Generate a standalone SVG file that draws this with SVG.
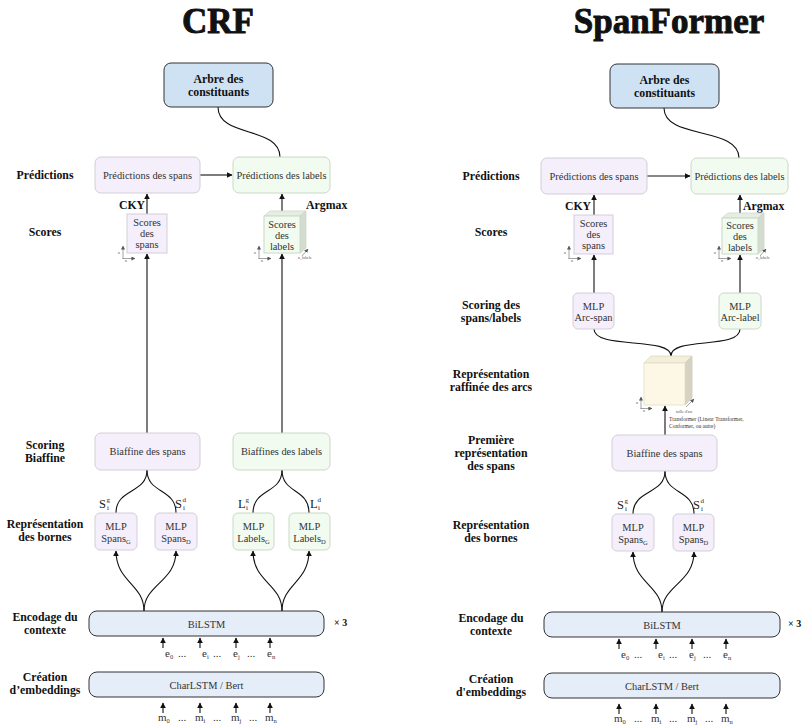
<svg xmlns="http://www.w3.org/2000/svg" width="804" height="726" viewBox="0 0 804 726">
<defs>
<marker id="ah" viewBox="0 0 10 10" refX="9" refY="5" markerWidth="6" markerHeight="6" markerUnits="userSpaceOnUse" orient="auto"><path d="M0,0 L10,5 L0,10 z" fill="#111"/></marker>
<marker id="sh" viewBox="0 0 10 10" refX="9" refY="5" markerWidth="4" markerHeight="4" markerUnits="userSpaceOnUse" orient="auto"><path d="M0,0 L10,5 L0,10 z" fill="#555"/></marker>
<style>
.title{font-family:"Liberation Serif",serif;font-weight:bold;font-size:35px;text-anchor:middle;fill:#111;stroke:#111;stroke-width:0.9}
.lb{font-family:"Liberation Serif",serif;font-weight:bold;font-size:11.8px;text-anchor:middle;fill:#111}
.at{font-family:"Liberation Serif",serif;font-weight:bold;font-size:11.8px;text-anchor:middle;fill:#111}
.bt{font-family:"Liberation Serif",serif;font-size:10.4px;text-anchor:middle;fill:#333}
.st{font-family:"Liberation Serif",serif;font-size:10.4px;text-anchor:middle;fill:#333}
.sm{font-family:"Liberation Serif",serif;font-size:6.5px;fill:#333}
.tiny{font-family:"Liberation Serif",serif;font-size:4px;fill:#555}
.tx{font-family:"Liberation Serif",serif;font-size:5.5px;fill:#333}
.sym{font-family:"Liberation Serif",serif;font-size:12.5px;fill:#222}
.sup{font-family:"Liberation Serif",serif;font-size:7px;fill:#222}
.io{font-family:"Liberation Serif",serif;font-size:11px;fill:#333}
.pv{fill:#f4effb;stroke:#d3cdd9;stroke-width:1}
.gr{fill:#f1fbef;stroke:#cbd8c8;stroke-width:1}
.ar{fill:#cfe2f3;stroke:#333;stroke-width:1}
.bl{fill:#e5edf9;stroke:#333;stroke-width:1}
.c{fill:none;stroke:#111;stroke-width:1.1}
.a{fill:none;stroke:#111;stroke-width:1.1;marker-end:url(#ah)}
.ax{fill:none;stroke:#666;stroke-width:0.6;marker-end:url(#sh)}
</style>
</defs>
<rect width="804" height="726" fill="#fff"/>

<text class="title" x="218" y="33">CRF</text>
<text class="title" x="669" y="33">SpanFormer</text>

<!-- left-side row labels CRF -->
<g id="labels-crf">
<text class="lb" x="45" y="179">Prédictions</text>
<text class="lb" x="45" y="236">Scores</text>
<text class="lb" x="45" y="449">Scoring</text>
<text class="lb" x="45" y="462">Biaffine</text>
<text class="lb" x="45" y="528">Représentation</text>
<text class="lb" x="45" y="541">des bornes</text>
<text class="lb" x="45" y="621">Encodage du</text>
<text class="lb" x="45" y="634">contexte</text>
<text class="lb" x="45" y="681">Création</text>
<text class="lb" x="45" y="694">d’embeddings</text>
<text class="lb" x="132" y="209">CKY</text>
<text class="lb" x="306" y="209" style="text-anchor:start">Argmax</text>
<text class="lb" x="334" y="626" style="text-anchor:start;font-size:10px">× 3</text>
</g>

<!-- left-side row labels SpanFormer -->
<g id="labels-sf">
<text class="lb" x="491" y="180">Prédictions</text>
<text class="lb" x="491" y="236">Scores</text>
<text class="lb" x="491" y="309">Scoring des</text>
<text class="lb" x="491" y="322">spans/labels</text>
<text class="lb" x="491" y="378">Représentation</text>
<text class="lb" x="491" y="391">raffinée des arcs</text>
<text class="lb" x="491" y="444">Première</text>
<text class="lb" x="491" y="457">représentation</text>
<text class="lb" x="491" y="470">des spans</text>
<text class="lb" x="491" y="529">Représentation</text>
<text class="lb" x="491" y="542">des bornes</text>
<text class="lb" x="491" y="622">Encodage du</text>
<text class="lb" x="491" y="635">contexte</text>
<text class="lb" x="491" y="683">Création</text>
<text class="lb" x="491" y="696">d'embeddings</text>
<text class="lb" x="578" y="210">CKY</text>
<text class="lb" x="743" y="210" style="text-anchor:start">Argmax</text>
<text class="lb" x="788" y="627" style="text-anchor:start;font-size:10px">× 3</text>
</g>

<!-- connectors -->
<g id="connectors">
<!-- CRF -->
<path class="c" d="M218,107 C218,138 280,126 280,157"/>
<path class="a" d="M200,175 L232,175"/>
<path class="a" d="M147,214 L147,194"/>
<path class="a" d="M282,211 L282,194"/>
<path class="a" d="M147,433 L147,254"/>
<path class="a" d="M282,433 L282,254"/>
<path class="c" d="M147,470 C147,494 116,488 116,513"/>
<path class="c" d="M147,470 C147,494 176,488 176,513"/>
<path class="c" d="M282,470 C282,494 253,488 253,513"/>
<path class="c" d="M282,470 C282,494 309,488 309,513"/>
<path class="a" d="M144,611 C144,584 116,582 116,551"/>
<path class="a" d="M144,611 C144,584 176,582 176,551"/>
<path class="a" d="M282,611 C282,584 253,582 253,551"/>
<path class="a" d="M282,611 C282,584 309,582 309,551"/>
<path class="a" d="M163,648 L163,638"/>
<path class="a" d="M200,648 L200,638"/>
<path class="a" d="M236,648 L236,638"/>
<path class="a" d="M270,648 L270,638"/>
<path class="a" d="M163,713 L163,703"/>
<path class="a" d="M200,713 L200,703"/>
<path class="a" d="M236,713 L236,703"/>
<path class="a" d="M270,713 L270,703"/>
<!-- SpanFormer -->
<path class="c" d="M664,108 C664,140 739,126 739,158"/>
<path class="a" d="M647,176 L690,176"/>
<path class="a" d="M594,215 L594,195"/>
<path class="a" d="M740,213 L740,195"/>
<path class="a" d="M594,293 L594,255"/>
<path class="a" d="M740,293 L740,255"/>
<path class="c" d="M594,329 C594,350 671,336 671,356"/>
<path class="c" d="M740,329 C740,350 671,336 671,356"/>
<path class="a" d="M665,435 L665,406"/>
<path class="c" d="M665,471 C665,495 633,489 633,514"/>
<path class="c" d="M665,471 C665,495 694,489 694,514"/>
<path class="a" d="M662,612 C662,585 633,583 633,552"/>
<path class="a" d="M662,612 C662,585 694,583 694,552"/>
<path class="a" d="M619,649 L619,639"/>
<path class="a" d="M656,649 L656,639"/>
<path class="a" d="M692,649 L692,639"/>
<path class="a" d="M726,649 L726,639"/>
<path class="a" d="M619,714 L619,704"/>
<path class="a" d="M656,714 L656,704"/>
<path class="a" d="M692,714 L692,704"/>
<path class="a" d="M726,714 L726,704"/>
</g>

<!-- CRF nodes -->
<g id="crf-arbre"><rect class="ar" x="164" y="63" width="109" height="44" rx="7"/>
<text class="at" x="218.5" y="83">Arbre des</text><text class="at" x="218.5" y="96">constituants</text></g>
<g id="crf-pred-spans"><rect class="pv" x="95" y="157" width="105" height="36" rx="6"/>
<text class="bt" x="147.5" y="178.5">Prédictions des spans</text></g>
<g id="crf-pred-labels"><rect class="gr" x="233" y="157" width="97" height="36" rx="6"/>
<text class="bt" x="281.5" y="178.5">Prédictions des labels</text></g>
<g id="crf-scores-spans"><rect class="pv" x="127" y="214" width="40" height="39"/>
<text class="st" x="147" y="226">Scores</text><text class="st" x="147" y="237">des</text><text class="st" x="147" y="248">spans</text>
<path class="ax" d="M123,259 L123,246"/><path class="ax" d="M122.7,258.5 L135,258.5"/>
<text class="tiny" x="118" y="254">n</text><text class="tiny" x="125" y="262">n</text></g>
<g id="crf-scores-labels">
<polygon points="264,216 270,211 306,211 300,216" fill="#e6eee3" stroke="#cbd8c8" stroke-width="0.8"/>
<polygon points="300,216 306,211 306,248 300,253" fill="#d3dccf" stroke="#cbd8c8" stroke-width="0.8"/>
<rect class="gr" x="264" y="216" width="36" height="37"/>
<text class="st" x="282" y="228">Scores</text><text class="st" x="282" y="239">des</text><text class="st" x="282" y="250">labels</text>
<path class="ax" d="M259,259 L259,246"/><path class="ax" d="M258.7,258.5 L271,258.5"/>
<text class="tiny" x="254" y="254">n</text><text class="tiny" x="261" y="262">n</text>
<path class="ax" d="M302,256 L308,249"/><text class="tiny" x="298" y="259">n_labels</text></g>
<g id="crf-biaffine-spans"><rect class="pv" x="95" y="433" width="105" height="37" rx="6"/>
<text class="bt" x="147.5" y="455">Biaffine des spans</text></g>
<g id="crf-biaffine-labels"><rect class="gr" x="233" y="433" width="97" height="37" rx="6"/>
<text class="bt" x="281.5" y="455">Biaffines des labels</text></g>
<g id="crf-mlp-spans-g"><rect class="pv" x="95" y="513" width="42" height="37" rx="5"/>
<text class="bt" x="116" y="530">MLP</text><text class="bt" x="116" y="542">Spans<tspan class="sm" dy="2">G</tspan></text>
<text class="sym" x="99" y="508">S</text><text class="sup" x="106.5" y="502">g</text><text class="sup" x="107" y="509.5">i</text></g>
<g id="crf-mlp-spans-d"><rect class="pv" x="155" y="513" width="42" height="37" rx="5"/>
<text class="bt" x="176" y="530">MLP</text><text class="bt" x="176" y="542">Spans<tspan class="sm" dy="2">D</tspan></text>
<text class="sym" x="175" y="508">S</text><text class="sup" x="182.5" y="502">d</text><text class="sup" x="183" y="509.5">i</text></g>
<g id="crf-mlp-labels-g"><rect class="gr" x="233" y="513" width="41" height="37" rx="5"/>
<text class="bt" x="253.5" y="530">MLP</text><text class="bt" x="253.5" y="542">Labels<tspan class="sm" dy="2">G</tspan></text>
<text class="sym" x="238" y="508">L</text><text class="sup" x="245.5" y="502">g</text><text class="sup" x="246" y="509.5">i</text></g>
<g id="crf-mlp-labels-d"><rect class="gr" x="289" y="513" width="41" height="37" rx="5"/>
<text class="bt" x="309.5" y="530">MLP</text><text class="bt" x="309.5" y="542">Labels<tspan class="sm" dy="2">D</tspan></text>
<text class="sym" x="310" y="508">L</text><text class="sup" x="317.5" y="502">d</text><text class="sup" x="318" y="509.5">i</text></g>
<g id="crf-bilstm"><rect class="bl" x="89" y="611" width="235" height="25" rx="8"/>
<text class="bt" x="206.5" y="627.5">BiLSTM</text></g>
<g id="crf-e">
<text class="io" x="165" y="657">e<tspan class="sm" dy="2">0</tspan></text><text class="io" x="178" y="657">...</text>
<text class="io" x="202" y="657">e<tspan class="sm" dy="2">i</tspan></text><text class="io" x="213" y="657">...</text>
<text class="io" x="233" y="657">e<tspan class="sm" dy="2">j</tspan></text><text class="io" x="247" y="657">...</text>
<text class="io" x="267" y="657">e<tspan class="sm" dy="2">n</tspan></text></g>
<g id="crf-charlstm"><rect class="bl" x="89" y="672" width="235" height="25" rx="8"/>
<text class="bt" x="206.5" y="688.5">CharLSTM / Bert</text></g>
<g id="crf-m">
<text class="io" x="158" y="721">m<tspan class="sm" dy="2">0</tspan></text><text class="io" x="178" y="721">...</text>
<text class="io" x="195" y="721">m<tspan class="sm" dy="2">i</tspan></text><text class="io" x="213" y="721">...</text>
<text class="io" x="231" y="721">m<tspan class="sm" dy="2">j</tspan></text><text class="io" x="249" y="721">...</text>
<text class="io" x="265" y="721">m<tspan class="sm" dy="2">n</tspan></text></g>

<!-- SpanFormer nodes -->
<g id="sf-arbre"><rect class="ar" x="610" y="64" width="109" height="44" rx="7"/>
<text class="at" x="664.5" y="84">Arbre des</text><text class="at" x="664.5" y="97">constituants</text></g>
<g id="sf-pred-spans"><rect class="pv" x="541" y="158" width="106" height="36" rx="6"/>
<text class="bt" x="594" y="179.5">Prédictions des spans</text></g>
<g id="sf-pred-labels"><rect class="gr" x="691" y="158" width="97" height="36" rx="6"/>
<text class="bt" x="739.5" y="179.5">Prédictions des labels</text></g>
<g id="sf-scores-spans"><rect class="pv" x="574" y="215" width="39" height="39"/>
<text class="st" x="593.5" y="227">Scores</text><text class="st" x="593.5" y="238">des</text><text class="st" x="593.5" y="249">spans</text>
<path class="ax" d="M569,259 L569,246"/><path class="ax" d="M568.7,258.5 L581,258.5"/>
<text class="tiny" x="564" y="254">n</text><text class="tiny" x="571" y="262">n</text></g>
<g id="sf-scores-labels">
<polygon points="722,218 728,213 764,213 758,218" fill="#e6eee3" stroke="#cbd8c8" stroke-width="0.8"/>
<polygon points="758,218 764,213 764,249 758,254" fill="#d3dccf" stroke="#cbd8c8" stroke-width="0.8"/>
<rect class="gr" x="722" y="218" width="36" height="36"/>
<text class="st" x="740" y="229">Scores</text><text class="st" x="740" y="240">des</text><text class="st" x="740" y="251">labels</text>
<path class="ax" d="M719,259 L719,246"/><path class="ax" d="M718.7,258.5 L731,258.5"/>
<text class="tiny" x="714" y="254">n</text><text class="tiny" x="721" y="262">n</text>
<path class="ax" d="M760,256 L766,249"/><text class="tiny" x="756" y="259">n_labels</text></g>
<g id="sf-mlp-arc-span"><rect class="pv" x="573" y="293" width="41" height="36" rx="5"/>
<text class="bt" x="593.5" y="310">MLP</text><text class="bt" x="593.5" y="321">Arc-span</text></g>
<g id="sf-mlp-arc-label"><rect class="gr" x="719" y="293" width="42" height="36" rx="5"/>
<text class="bt" x="740" y="310">MLP</text><text class="bt" x="740" y="321">Arc-label</text></g>
<g id="sf-arc-cube">
<polygon points="644,363 651,356 692,356 685,363" fill="#f4efd9" stroke="#dcd8c6" stroke-width="0.8"/>
<polygon points="685,363 692,356 692,398 685,405" fill="#d6d3c2" stroke="#d0ccba" stroke-width="0.8"/>
<rect x="644" y="363" width="41" height="42" fill="#fdf8e5" stroke="#e2ddc8" stroke-width="0.8"/>
<path class="ax" d="M641,409 L641,397"/><path class="ax" d="M640.7,408.5 L652,408.5"/>
<text class="tiny" x="636" y="404">n</text><text class="tiny" x="643" y="412">n</text>
<path class="ax" d="M686,407 L694,399"/><text class="tiny" x="676" y="413">taille d'arc</text>
<text class="tx" x="669" y="421">Transformer (Linear Transformer,</text>
<text class="tx" x="669" y="427.5">Conformer, ou autre)</text></g>
<g id="sf-biaffine-spans"><rect class="pv" x="612" y="435" width="105" height="36" rx="6"/>
<text class="bt" x="664.5" y="456.5">Biaffine des spans</text></g>
<g id="sf-mlp-spans-g"><rect class="pv" x="612" y="514" width="42" height="37" rx="5"/>
<text class="bt" x="633" y="531">MLP</text><text class="bt" x="633" y="543">Spans<tspan class="sm" dy="2">G</tspan></text>
<text class="sym" x="617" y="509">S</text><text class="sup" x="624.5" y="503">g</text><text class="sup" x="625" y="510.5">i</text></g>
<g id="sf-mlp-spans-d"><rect class="pv" x="673" y="514" width="41" height="37" rx="5"/>
<text class="bt" x="693.5" y="531">MLP</text><text class="bt" x="693.5" y="543">Spans<tspan class="sm" dy="2">D</tspan></text>
<text class="sym" x="693" y="509">S</text><text class="sup" x="700.5" y="503">d</text><text class="sup" x="701" y="510.5">i</text></g>
<g id="sf-bilstm"><rect class="bl" x="544" y="612" width="236" height="25" rx="8"/>
<text class="bt" x="662" y="628.5">BiLSTM</text></g>
<g id="sf-e">
<text class="io" x="621" y="658">e<tspan class="sm" dy="2">0</tspan></text><text class="io" x="634" y="658">...</text>
<text class="io" x="658" y="658">e<tspan class="sm" dy="2">i</tspan></text><text class="io" x="669" y="658">...</text>
<text class="io" x="689" y="658">e<tspan class="sm" dy="2">j</tspan></text><text class="io" x="703" y="658">...</text>
<text class="io" x="723" y="658">e<tspan class="sm" dy="2">n</tspan></text></g>
<g id="sf-charlstm"><rect class="bl" x="544" y="673" width="236" height="25" rx="8"/>
<text class="bt" x="662" y="689.5">CharLSTM / Bert</text></g>
<g id="sf-m">
<text class="io" x="614" y="722">m<tspan class="sm" dy="2">0</tspan></text><text class="io" x="634" y="722">...</text>
<text class="io" x="651" y="722">m<tspan class="sm" dy="2">i</tspan></text><text class="io" x="669" y="722">...</text>
<text class="io" x="687" y="722">m<tspan class="sm" dy="2">j</tspan></text><text class="io" x="705" y="722">...</text>
<text class="io" x="721" y="722">m<tspan class="sm" dy="2">n</tspan></text></g>
</svg>
